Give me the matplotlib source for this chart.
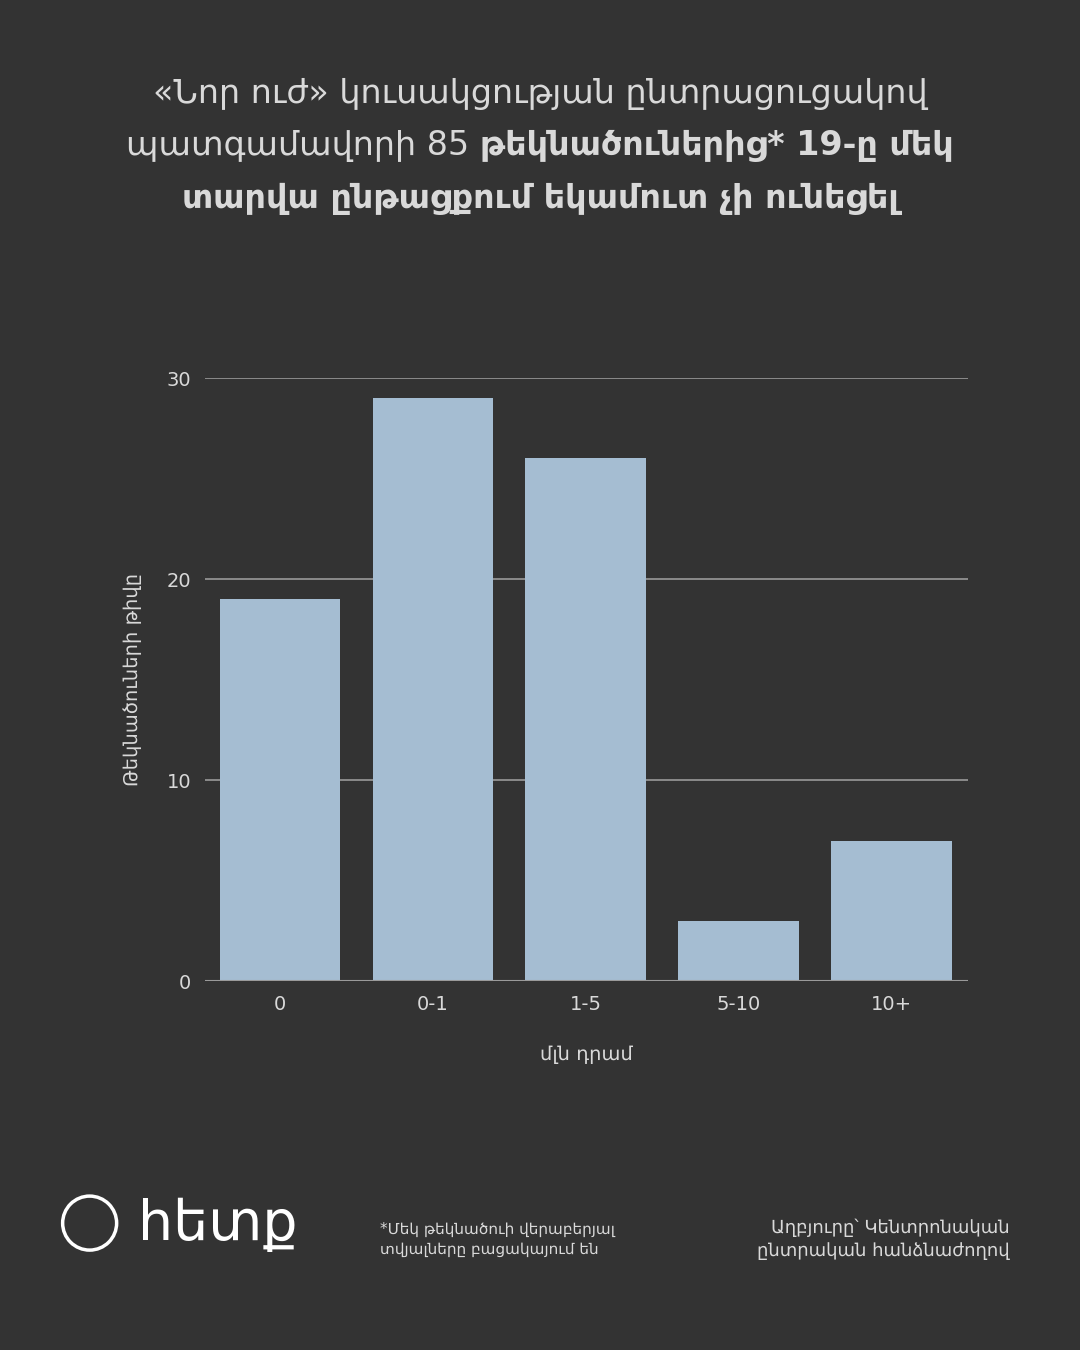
import matplotlib
matplotlib.use('Agg')
import matplotlib.pyplot as plt
from matplotlib.patches import Ellipse

categories = ['0', '0-1', '1-5', '5-10', '10+']
counts = [19, 29, 26, 3, 7]
yticks = [0, 10, 20, 30]

bg = '#333333'
fg = '#d9d9d9'
plt.rcParams['font.family'] = ['DejaVu Sans']

fig = plt.figure(figsize=(10.8, 13.5), dpi=100, facecolor=bg)
ax = fig.add_axes([0.19, 0.273, 0.706, 0.447], facecolor=bg)
ax.bar(categories, counts, width=0.79, color='#a5bdd2', zorder=2)
ax.set_ylim(0, 30)
ax.set_xlim(-0.49, 4.5)
ax.set_yticks(yticks)
ax.grid(axis='y', color='#9a9a9a', linewidth=1.2, zorder=1)
for s in ax.spines.values():
    s.set_visible(False)
ax.axhline(0, color='#9a9a9a', linewidth=1.5, zorder=3)
ax.tick_params(colors=fg, labelsize=14, length=0, pad=10)
ax.set_ylabel('Թեկնածուների թիվը', color=fg, fontsize=14, labelpad=18)
ax.set_xlabel('մլն դրամ', color=fg, fontsize=14, labelpad=22)

# title
fs = 24
tkw = dict(color=fg, fontsize=fs, ha='center', va='center')
fig.text(0.5, 0.931, '«Նոր ուժ» կուսակցության ընտրացուցակով', **tkw)
fig.text(0.5, 0.853, 'տարվա ընթացքում եկամուտ չի ունեցել', fontweight='bold', **tkw)
fig.canvas.draw()
r = fig.canvas.get_renderer()
p1 = 'պատգամավորի 85 '
p2 = 'թեկնածուներից* 19-ը մեկ'
t1 = fig.text(0, 0.892, p1, color=fg, fontsize=fs, va='center')
t2 = fig.text(0, 0.892, p2, color=fg, fontsize=fs, va='center', fontweight='bold')
w1 = t1.get_window_extent(r).width / 1080
w2 = t2.get_window_extent(r).width / 1080
x0 = 0.5 - (w1 + w2) / 2
t1.set_x(x0)
t2.set_x(x0 + w1)

# footer
fig.text(0.352, 0.082, '*Մեկ թեկնածուի վերաբերյալ\nտվյալները բացակայում են',
         color=fg, fontsize=11, va='center', linespacing=1.4)
fig.text(0.935, 0.082, 'Աղբյուրը՝ Կենտրոնական\nընտրական հանձնաժողով',
         color=fg, fontsize=13, va='center', ha='right', linespacing=1.4)
fig.add_artist(Ellipse((0.083, 0.094), 0.05, 0.04, transform=fig.transFigure,
                       fill=False, edgecolor='white', linewidth=2.5))
fig.text(0.128, 0.093, 'hետք', color='white', fontsize=40, va='center')

fig.savefig('out.png', dpi=100, facecolor=bg)
